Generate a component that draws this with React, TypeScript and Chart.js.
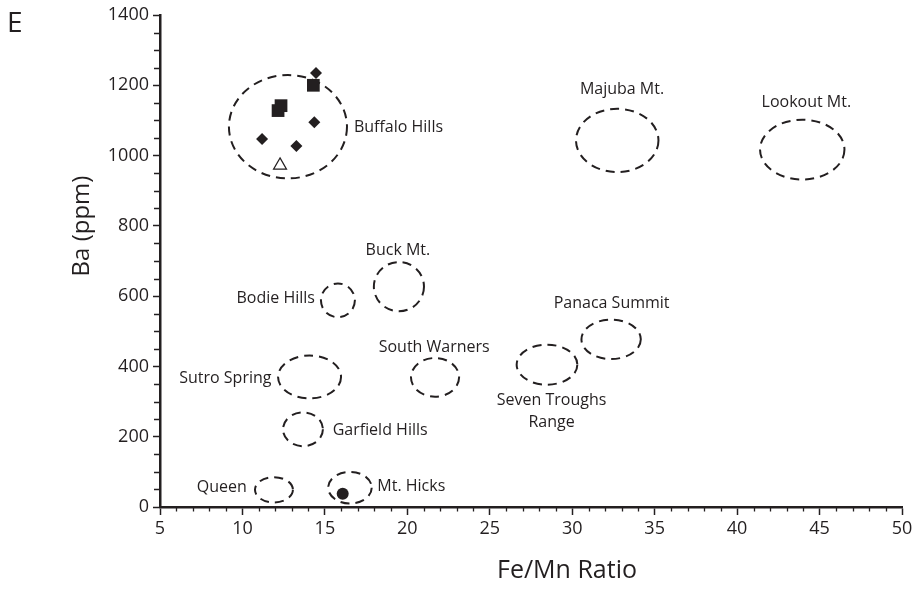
import React, { useEffect, useRef } from "react";
import { Chart, registerables } from "chart.js";

Chart.register(...registerables);

const FONT = "'Open Sans', 'DejaVu Sans', sans-serif";
const INK = "#231f20";

// ---- axes ----
const X_MIN = 5;
const X_MAX = 50;
const X_STEP = 5;
const X_MINOR = 1;
const Y_MIN = 0;
const Y_MAX = 1400;
const Y_STEP = 200;
const Y_MINOR = 50;
const xTitle = "Fe/Mn Ratio";
const yTitle = "Ba (ppm)";
const panelLetter = "E";

// ---- sample points (Buffalo Hills + Mt. Hicks) ----
const diamondX = [14.46, 14.36, 11.19, 13.27];
const diamondY = [1235, 1095, 1047, 1027];
const squareX = [14.3, 12.16, 12.34];
const squareY = [1200, 1128, 1142];
const triangleX = [12.28];
const triangleY = [972];
const circleX = [16.08];
const circleY = [38];

// ---- fields (dashed ellipses), in data units ----
const fieldNames = [
  "Buffalo Hills",
  "Majuba Mt.",
  "Lookout Mt.",
  "Buck Mt.",
  "Bodie Hills",
  "Sutro Spring",
  "South Warners",
  "Garfield Hills",
  "Queen",
  "Mt. Hicks",
  "Seven Troughs Range",
  "Panaca Summit",
];
const fieldCenterX = [12.76, 32.73, 43.95, 19.49, 15.79, 14.07, 21.68, 13.67, 11.91, 16.52, 28.47, 32.36];
const fieldCenterY = [1082, 1043, 1017, 627, 588, 370, 369, 221, 49, 55, 405, 477];
const fieldRadiusX = [3.58, 2.5, 2.56, 1.52, 1.03, 1.91, 1.46, 1.21, 1.15, 1.32, 1.84, 1.8];
const fieldRadiusY = [147, 90, 85, 70, 48, 61, 55, 48, 36, 45, 57, 56];

// ---- field labels (anchor in data units) ----
const labelText = [
  "Buffalo Hills",
  "Majuba Mt.",
  "Lookout Mt.",
  "Buck Mt.",
  "Bodie Hills",
  "Sutro Spring",
  "South Warners",
  "Garfield Hills",
  "Queen",
  "Mt. Hicks",
  "Seven Troughs",
  "Range",
  "Panaca Summit",
];
const labelX = [16.76, 33.02, 44.2, 19.43, 14.4, 11.76, 21.63, 15.47, 10.26, 18.18, 28.75, 28.75, 32.39];
const labelY = [1081, 1188, 1150, 730, 593, 367, 454, 218, 55, 59, 304, 241, 580];
const labelAlign: CanvasTextAlign[] = [
  "left", "center", "center", "center", "right", "right", "center",
  "left", "right", "left", "center", "center", "center",
];

const toPts = (xs: number[], ys: number[]) => xs.map((x, i) => ({ x, y: ys[i] }));

const overlay = {
  id: "overlay",
  beforeDatasetsDraw(chart: any) {
    const { ctx } = chart;
    const xs = chart.scales.x;
    const ys = chart.scales.y;
    ctx.save();
    ctx.strokeStyle = INK;
    ctx.lineWidth = 2;
    ctx.setLineDash([9, 6]);
    for (let i = 0; i < fieldNames.length; i++) {
      const cx = xs.getPixelForValue(fieldCenterX[i]);
      const cy = ys.getPixelForValue(fieldCenterY[i]);
      const rx = Math.abs(xs.getPixelForValue(fieldCenterX[i] + fieldRadiusX[i]) - cx);
      const ry = Math.abs(ys.getPixelForValue(fieldCenterY[i] + fieldRadiusY[i]) - cy);
      ctx.beginPath();
      ctx.ellipse(cx, cy, rx, ry, 0, 0, Math.PI * 2);
      ctx.stroke();
    }
    ctx.setLineDash([]);
    ctx.fillStyle = INK;
    ctx.font = `16px ${FONT}`;
    ctx.textBaseline = "middle";
    for (let i = 0; i < labelText.length; i++) {
      ctx.textAlign = labelAlign[i];
      ctx.fillText(labelText[i], xs.getPixelForValue(labelX[i]), ys.getPixelForValue(labelY[i]));
    }
    ctx.restore();
  },
  afterDraw(chart: any) {
    const { ctx, chartArea } = chart;
    const xs = chart.scales.x;
    const ys = chart.scales.y;
    ctx.save();
    ctx.strokeStyle = INK;
    ctx.lineWidth = 1.3;
    ctx.beginPath();
    for (let v = X_MIN + X_MINOR; v < X_MAX; v += X_MINOR) {
      if (Math.abs(v % X_STEP) < 1e-9) continue;
      const px = Math.round(xs.getPixelForValue(v)) + 0.5;
      ctx.moveTo(px, chartArea.bottom);
      ctx.lineTo(px, chartArea.bottom + 4.5);
    }
    for (let v = Y_MIN + Y_MINOR; v < Y_MAX; v += Y_MINOR) {
      if (Math.abs(v % Y_STEP) < 1e-9) continue;
      const py = Math.round(ys.getPixelForValue(v)) + 0.5;
      ctx.moveTo(chartArea.left - 6, py);
      ctx.lineTo(chartArea.left, py);
    }
    ctx.stroke();

    ctx.fillStyle = INK;
    ctx.textBaseline = "middle";
    ctx.textAlign = "center";
    ctx.font = `25px ${FONT}`;
    ctx.fillText(xTitle, 567, 571);
    ctx.save();
    ctx.translate(82, 226);
    ctx.rotate(-Math.PI / 2);
    ctx.font = `24px ${FONT}`;
    ctx.fillText(yTitle, 0, 0);
    ctx.restore();
    ctx.textAlign = "left";
    ctx.font = `28px ${FONT}`;
    ctx.fillText(panelLetter, 7, 24);
    ctx.restore();
  },
};

export default function App() {
  const ref = useRef<HTMLCanvasElement | null>(null);
  useEffect(() => {
    if (!ref.current) return;
    const chart = new Chart(ref.current, {
      type: "scatter",
      data: {
        datasets: [
          {
            label: "diamonds",
            data: toPts(diamondX, diamondY),
            pointStyle: "rectRot",
            pointRadius: 6,
            backgroundColor: INK,
            borderColor: INK,
            borderWidth: 0,
            clip: false,
          },
          {
            label: "squares",
            data: toPts(squareX, squareY),
            pointStyle: "rect",
            pointRadius: 9,
            backgroundColor: INK,
            borderColor: INK,
            borderWidth: 0,
            clip: false,
          },
          {
            label: "triangle",
            data: toPts(triangleX, triangleY),
            pointStyle: "triangle",
            pointRadius: 7.5,
            backgroundColor: "#ffffff",
            borderColor: INK,
            borderWidth: 1.2,
            clip: false,
          },
          {
            label: "circle",
            data: toPts(circleX, circleY),
            pointStyle: "circle",
            pointRadius: 6,
            backgroundColor: INK,
            borderColor: INK,
            borderWidth: 0,
            clip: false,
          },
        ],
      },
      options: {
        animation: false,
        responsive: false,
        maintainAspectRatio: false,
        devicePixelRatio: 1,
        layout: { padding: { top: 15, right: 19, left: 0, bottom: 0 } },
        plugins: {
          legend: { display: false },
          tooltip: { enabled: false },
          title: { display: false },
        },
        scales: {
          x: {
            type: "linear",
            min: X_MIN,
            max: X_MAX,
            afterFit: (s: any) => {
              s.height = 82;
            },
            border: { display: true, color: INK, width: 2.5 },
            grid: {
              display: true,
              drawOnChartArea: false,
              drawTicks: true,
              tickLength: 8,
              tickColor: INK,
              tickWidth: 1.5,
            },
            ticks: {
              stepSize: X_STEP,
              color: INK,
              padding: 3,
              maxRotation: 0,
              font: { family: FONT, size: 18 },
              callback: (v: any) => String(v),
            },
          },
          y: {
            type: "linear",
            min: Y_MIN,
            max: Y_MAX,
            afterFit: (s: any) => {
              s.width = 160;
            },
            border: { display: true, color: INK, width: 2.5 },
            grid: {
              display: true,
              drawOnChartArea: false,
              drawTicks: true,
              tickLength: 7,
              tickColor: INK,
              tickWidth: 1.5,
            },
            ticks: {
              stepSize: Y_STEP,
              color: INK,
              padding: 4,
              font: { family: FONT, size: 18 },
              callback: (v: any) => String(v),
            },
          },
        },
      },
      plugins: [overlay],
    });
    return () => chart.destroy();
  }, []);
  return (
    <div style={{ position: "fixed", left: 0, top: 0, width: 921, height: 589, background: "#fff" }}>
      <canvas ref={ref} width={921} height={589} style={{ width: 921, height: 589, display: "block" }} />
    </div>
  );
}
